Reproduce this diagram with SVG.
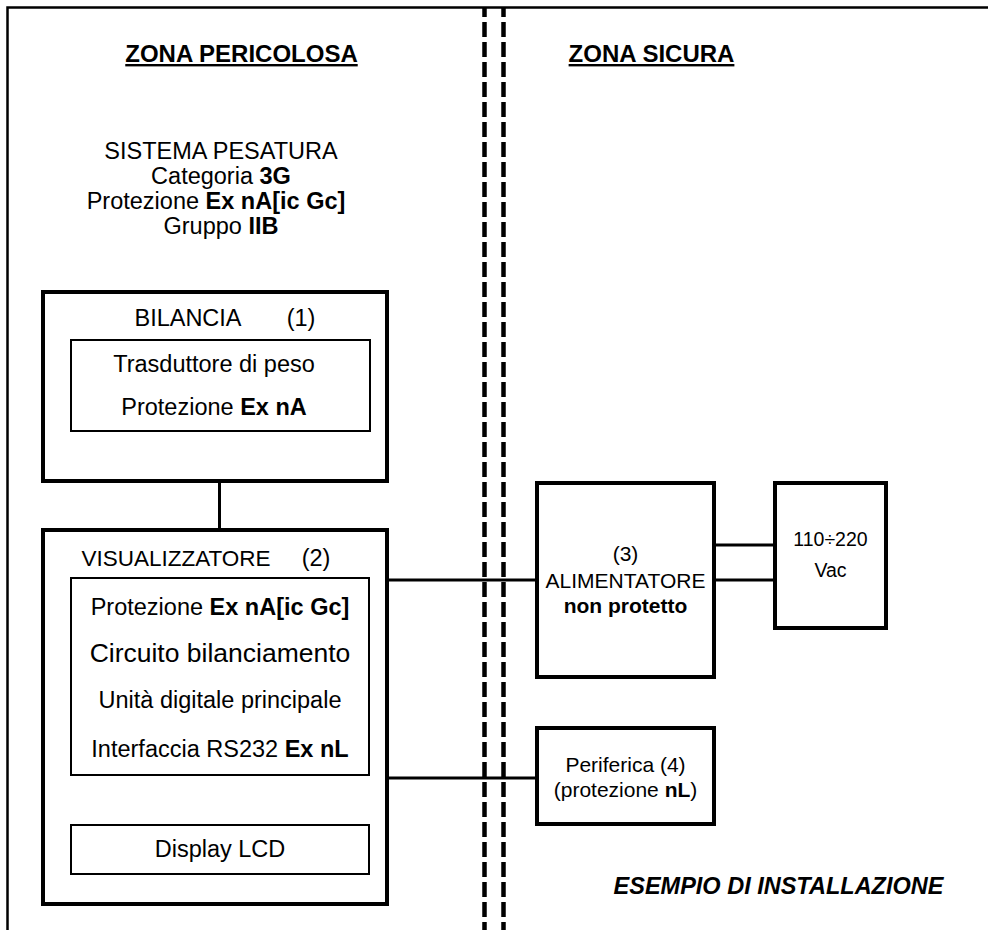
<svg xmlns="http://www.w3.org/2000/svg" width="988" height="930" viewBox="0 0 988 930">
<style>
text{font-family:"Liberation Sans",Arial,sans-serif;fill:#000;text-anchor:middle}
.b{font-weight:bold}
.h{font-weight:bold;font-size:24px;text-decoration:underline}
.l{font-size:23.5px}
.r{font-size:21px}
.box{fill:#fff;stroke:#000;stroke-width:4}
.inner{fill:#fff;stroke:#000;stroke-width:2}
.wire{stroke:#000;stroke-width:3;fill:none}
.dash{stroke:#000;stroke-width:4.5;stroke-dasharray:15 5;stroke-dashoffset:5;fill:none}
</style>
<g id="frame">
<path d="M7.5 930 V7.5 H988" fill="none" stroke="#000" stroke-width="2.5"/>
</g>
<g id="divider">
<line class="dash" x1="484.5" y1="7" x2="484.5" y2="930"/>
<line class="dash" x1="503.5" y1="7" x2="503.5" y2="930"/>
</g>
<g id="headings">
<text class="h" x="241.5" y="62">ZONA PERICOLOSA</text>
<text class="h" x="651.5" y="62">ZONA SICURA</text>
</g>
<g id="sistema">
<text class="l" x="221" y="159">SISTEMA PESATURA</text>
<text class="l" x="221" y="184">Categoria <tspan class="b">3G</tspan></text>
<text class="l" x="216" y="209">Protezione <tspan class="b">Ex nA[ic Gc]</tspan></text>
<text class="l" x="221" y="234">Gruppo <tspan class="b">IIB</tspan></text>
</g>
<g id="connectors">
<line class="wire" x1="219.5" y1="481" x2="219.5" y2="530"/>
<line class="wire" x1="387" y1="580" x2="537" y2="580"/>
<line class="wire" x1="387" y1="778" x2="537" y2="778"/>
<line class="wire" x1="714" y1="545" x2="775" y2="545"/>
<line class="wire" x1="714" y1="580" x2="775" y2="580"/>
</g>
<g id="bilancia">
<rect class="box" x="43" y="292" width="344" height="189"/>
<text class="l" x="188" y="326">BILANCIA</text>
<text class="l" x="301" y="326">(1)</text>
<rect class="inner" x="71" y="340" width="299" height="91"/>
<text class="l" x="214" y="372">Trasduttore di peso</text>
<text class="l" x="214" y="415">Protezione <tspan class="b">Ex nA</tspan></text>
</g>
<g id="visualizzatore">
<rect class="box" x="43" y="530" width="344" height="374"/>
<text x="176" y="566" style="font-size:22.5px">VISUALIZZATORE</text>
<text class="l" x="316" y="566">(2)</text>
<rect class="inner" x="71" y="578" width="298" height="197"/>
<text class="l" x="220" y="615">Protezione <tspan class="b">Ex nA[ic Gc]</tspan></text>
<text x="220" y="662" style="font-size:26.5px">Circuito bilanciamento</text>
<text class="l" x="220" y="708">Unità digitale principale</text>
<text class="l" x="220" y="757">Interfaccia RS232 <tspan class="b">Ex nL</tspan></text>
<rect class="inner" x="71" y="825" width="298" height="49"/>
<text class="l" x="220" y="857">Display LCD</text>
</g>
<g id="alimentatore">
<rect class="box" x="537" y="483" width="177" height="194"/>
<text class="r" x="625.5" y="561">(3)</text>
<text class="r" x="625.5" y="588">ALIMENTATORE</text>
<text class="r b" x="625.5" y="613">non protetto</text>
</g>
<g id="rete">
<rect class="box" x="775" y="483" width="111" height="145"/>
<text x="830.5" y="546" style="font-size:19.5px">110÷220</text>
<text x="830.5" y="577" style="font-size:19.5px">Vac</text>
</g>
<g id="periferica">
<rect class="box" x="537" y="728" width="177" height="96"/>
<text class="r" x="625.5" y="772">Periferica (4)</text>
<text class="r" x="625.5" y="797">(protezione <tspan class="b">nL</tspan>)</text>
</g>
<g id="caption">
<text class="b" x="778.5" y="894" style="font-size:23.5px;font-style:italic">ESEMPIO DI INSTALLAZIONE</text>
</g>
</svg>
